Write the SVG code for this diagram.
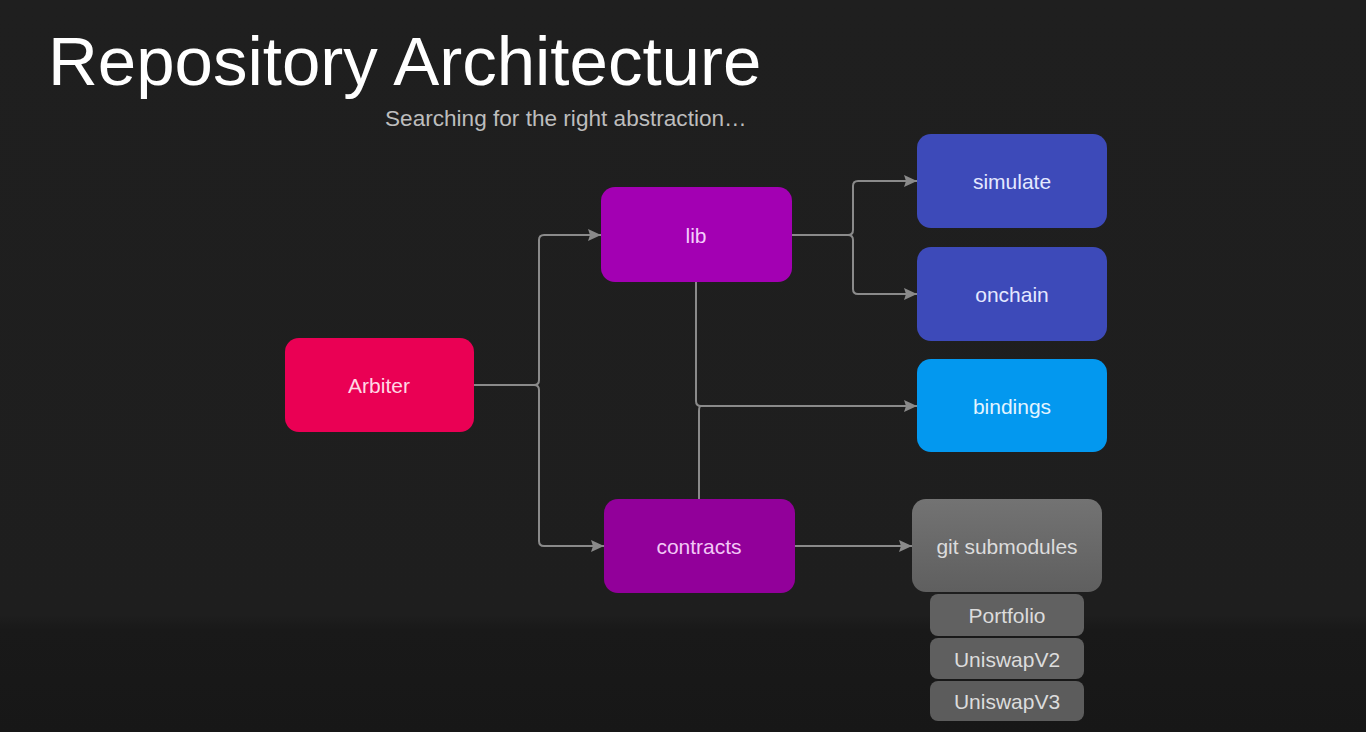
<svg xmlns="http://www.w3.org/2000/svg" width="1366" height="732" viewBox="0 0 1366 732">
<style>
.node text{font-family:"Liberation Sans",Arial,sans-serif;font-size:21px;text-anchor:middle;dominant-baseline:central}
.conn path{fill:none;stroke:#8a8a8a;stroke-width:2}
.sub text{fill:#dcdcdc}
</style>
<defs>
<marker id="arr" viewBox="0 0 13 12" refX="13" refY="6" markerWidth="13" markerHeight="12" markerUnits="userSpaceOnUse" orient="auto">
<path d="M0,0 L13,6 L0,12 L2,6 Z" fill="#8a8a8a"/>
</marker>
<linearGradient id="gGit" x1="0" y1="0" x2="0" y2="1">
<stop offset="0" stop-color="#737373"/>
<stop offset="1" stop-color="#5f5f5f"/>
</linearGradient>
<linearGradient id="bg" x1="0" y1="0" x2="0" y2="1">
<stop offset="0" stop-color="#1f1f1f"/>
<stop offset="0.84" stop-color="#1e1e1e"/>
<stop offset="0.86" stop-color="#191919"/>
<stop offset="1" stop-color="#171717"/>
</linearGradient>
</defs>
<rect width="1366" height="732" fill="url(#bg)"/>
<text x="48" y="85" font-family="Liberation Sans,Arial,sans-serif" font-size="69" fill="#ffffff">Repository Architecture</text>
<text x="385" y="126" font-family="Liberation Sans,Arial,sans-serif" font-size="22.6" fill="#bdbdbd">Searching for the right abstraction…</text>

<g class="conn">
<path d="M474,385 H534 Q539,385 539,380 V240 Q539,235 544,235 H601" marker-end="url(#arr)"/>
<path d="M534,385 Q539,385 539,390 V541 Q539,546 544,546 H604" marker-end="url(#arr)"/>
<path d="M792,235 H848 Q853,235 853,230 V186 Q853,181 858,181 H917" marker-end="url(#arr)"/>
<path d="M848,235 Q853,235 853,240 V289 Q853,294 858,294 H917" marker-end="url(#arr)"/>
<path d="M696,282 V401 Q696,406 701,406 H917" marker-end="url(#arr)"/>
<path d="M699,499 V411 Q699,406 701,406"/>
<path d="M795,546 H912" marker-end="url(#arr)"/>
</g>

<g id="arbiter" class="node">
<rect x="285" y="338" width="189" height="94" rx="14" fill="#ea0054"/>
<text x="379" y="385" fill="#ffd8e4">Arbiter</text>
</g>
<g id="lib" class="node">
<rect x="601" y="187" width="191" height="95" rx="14" fill="#a300b3"/>
<text x="696" y="235" fill="#f4cdfc">lib</text>
</g>
<g id="contracts" class="node">
<rect x="604" y="499" width="191" height="94" rx="14" fill="#92009a"/>
<text x="699" y="546" fill="#f2c8f6">contracts</text>
</g>
<g id="simulate" class="node">
<rect x="917" y="134" width="190" height="94" rx="14" fill="#3d4ab9"/>
<text x="1012" y="181" fill="#e4e8ff">simulate</text>
</g>
<g id="onchain" class="node">
<rect x="917" y="247" width="190" height="94" rx="14" fill="#3d4ab9"/>
<text x="1012" y="294" fill="#e4e8ff">onchain</text>
</g>
<g id="bindings" class="node">
<rect x="917" y="359" width="190" height="93" rx="14" fill="#0398ef"/>
<text x="1012" y="406" fill="#e2f4ff">bindings</text>
</g>
<g id="git-submodules" class="node sub">
<rect x="912" y="499" width="190" height="93" rx="14" fill="url(#gGit)"/>
<text x="1007" y="546">git submodules</text>
</g>
<g id="portfolio" class="node sub">
<rect x="930" y="594" width="154" height="42" rx="8" fill="#616161"/>
<text x="1007" y="615">Portfolio</text>
</g>
<g id="uniswapv2" class="node sub">
<rect x="930" y="638" width="154" height="41" rx="8" fill="#5f5f5f"/>
<text x="1007" y="659">UniswapV2</text>
</g>
<g id="uniswapv3" class="node sub">
<rect x="930" y="681" width="154" height="40" rx="8" fill="#5c5c5c"/>
<text x="1007" y="701">UniswapV3</text>
</g>
</svg>
